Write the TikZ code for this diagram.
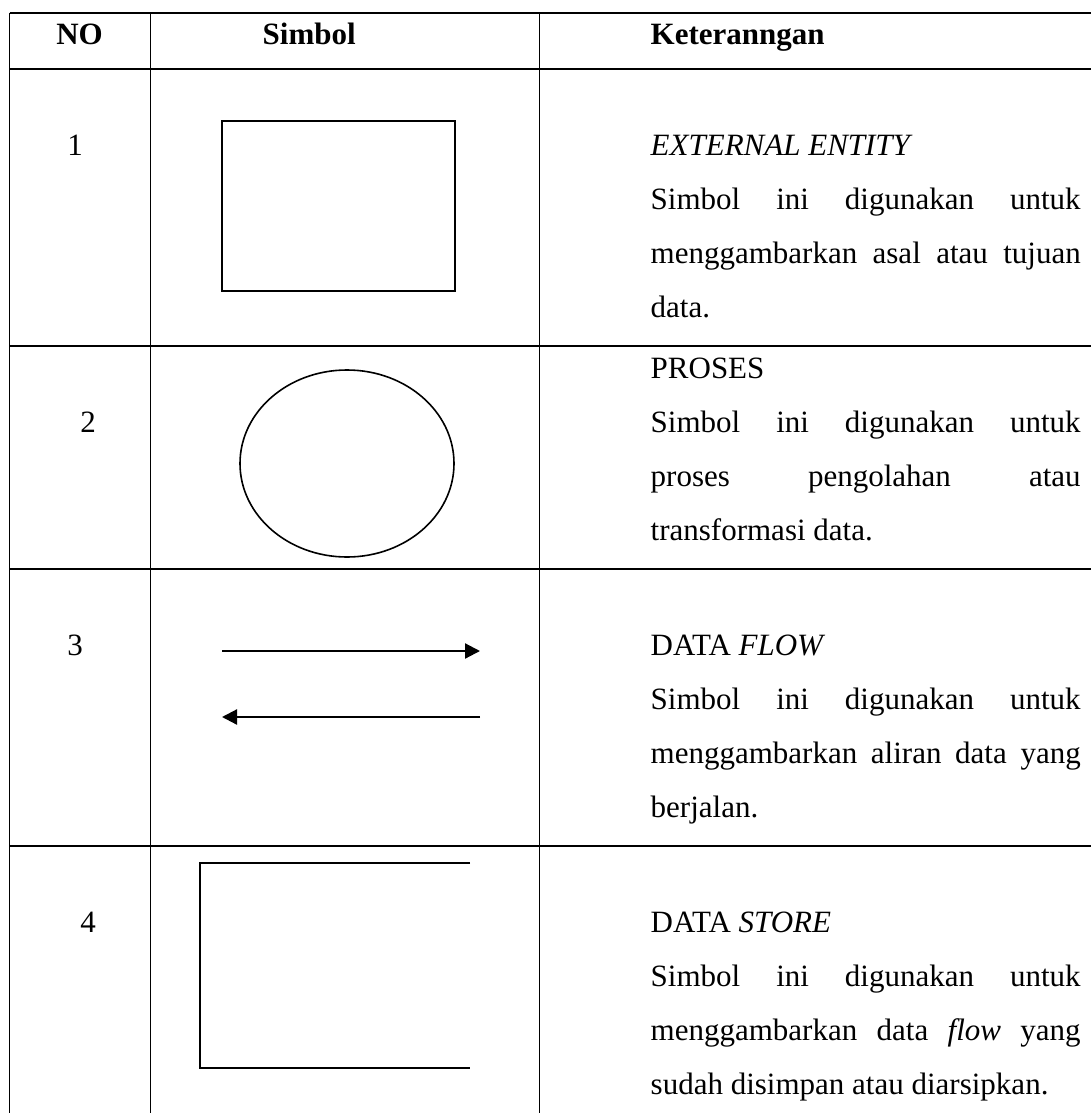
\documentclass[tikz,border=0pt]{standalone}
\usepackage{fontspec}
\setmainfont{Liberation Serif}
\usetikzlibrary{arrows.meta}

% a line of text stretched over the width of the column
\newcommand{\rataline}[1]{\makebox[430pt][s]{#1}}

\begin{document}
\begin{tikzpicture}[x=1pt, y=-1pt, line width=1.4pt,
	txt/.style={inner sep=0pt, anchor=base west, font=\fontsize{31}{37}\selectfont},
	num/.style={inner sep=0pt, anchor=base, font=\fontsize{31}{37}\selectfont},
	head/.style={inner sep=0pt, font=\fontsize{31}{37}\selectfont\bfseries},
	symline/.style={line width=1.6pt},
	flow/.style={line width=2.2pt, -{Triangle[length=15pt,width=15pt]}}]
		\useasboundingbox (0,0) rectangle (1091,1113);
		% table rules
		\draw (9.5,13) -- (1091,13);
		\foreach \y in {69,346,569,846}
		{
			\draw (9.5,\y) -- (1091,\y);
		}
		\foreach \x in {9.5,150.5,539.5}
		{
			\draw (\x,13) -- (\x,1113);
		}
		% header
		\node[head, anchor=base] (no) at (79.5,45) {NO};
		\node[head, anchor=base west] (simbol) at (262,45) {Simbol};
		\node[head, anchor=base west] (ket) at (650,45) {Keteranngan};
		% row numbers
		\node[num] (n1) at (75,155) {1};
		\node[num] (n2) at (88,432) {2};
		\node[num] (n3) at (75,655) {3};
		\node[num] (n4) at (88,932) {4};
		% external entity
		\draw[symline] (222,121) rectangle (455,291);
		% proses
		\draw[symline] (347,463.5) ellipse (107 and 93.5);
		% data flow
		\coordinate (f1a) at (222,651);
		\coordinate (f1b) at (480,651);
		\coordinate (f2a) at (480,717);
		\coordinate (f2b) at (222,717);
		\draw[flow] (f1a) -- (f1b);
		\draw[flow] (f2a) -- (f2b);
		% data store
		\draw[symline] (470,863) -- (200,863) -- (200,1068) -- (470,1068);
		% keterangan, row 1
		\node[txt] (k1a) at (650,155) {\textit{EXTERNAL ENTITY}};
		\node[txt] (k1b) at (650,209) {\rataline{Simbol ini digunakan untuk}};
		\node[txt] (k1c) at (650,263) {\rataline{menggambarkan asal atau tujuan}};
		\node[txt] (k1d) at (650,317) {data.};
		% keterangan, row 2
		\node[txt] (k2a) at (650,378) {PROSES};
		\node[txt] (k2b) at (650,432) {\rataline{Simbol ini digunakan untuk}};
		\node[txt] (k2c) at (650,486) {\rataline{proses pengolahan atau}};
		\node[txt] (k2d) at (650,540) {transformasi data.};
		% keterangan, row 3
		\node[txt] (k3a) at (650,655) {DATA \textit{FLOW}};
		\node[txt] (k3b) at (650,709) {\rataline{Simbol ini digunakan untuk}};
		\node[txt] (k3c) at (650,763) {\rataline{menggambarkan aliran data yang}};
		\node[txt] (k3d) at (650,817) {berjalan.};
		% keterangan, row 4
		\node[txt] (k4a) at (650,932) {DATA \textit{STORE}};
		\node[txt] (k4b) at (650,986) {\rataline{Simbol ini digunakan untuk}};
		\node[txt] (k4c) at (650,1040) {\rataline{menggambarkan data \textit{flow} yang}};
		\node[txt] (k4d) at (650,1094) {sudah disimpan atau diarsipkan.};
	\end{tikzpicture}
\end{document}
